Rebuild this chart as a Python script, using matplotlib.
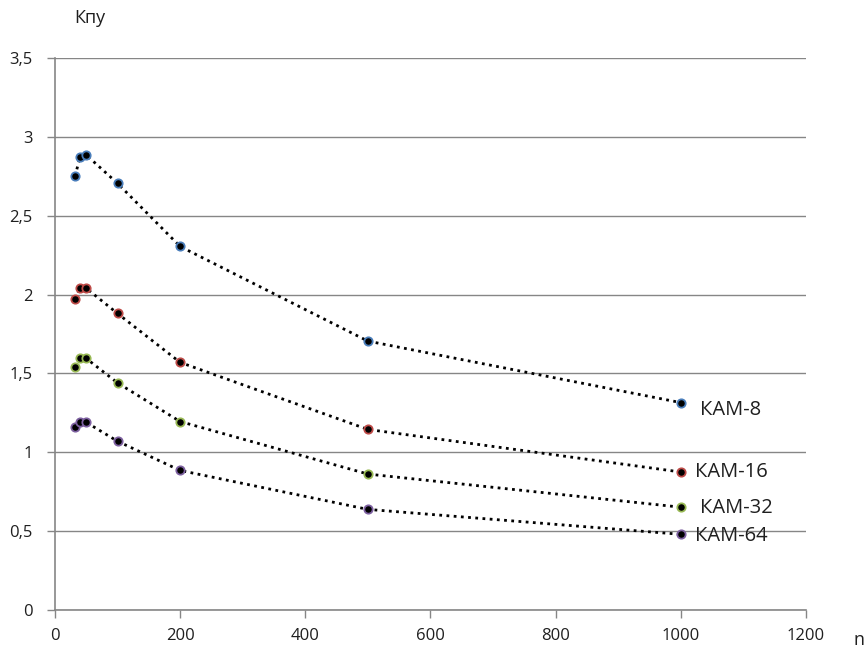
import matplotlib
matplotlib.use("Agg")
import matplotlib.pyplot as plt
from matplotlib.ticker import FuncFormatter

n = [32, 40, 50, 100, 200, 500, 1000]
kam8 = [2.75, 2.87, 2.885, 2.705, 2.305, 1.705, 1.315]
kam16 = [1.97, 2.04, 2.04, 1.88, 1.57, 1.145, 0.875]
kam32 = [1.54, 1.595, 1.595, 1.44, 1.195, 0.862, 0.652]
kam64 = [1.16, 1.195, 1.19, 1.07, 0.885, 0.638, 0.48]
series_names = ["КАМ-8", "КАМ-16", "КАМ-32", "КАМ-64"]
colors = ["#4a7ebb", "#be4b48", "#98b954", "#7d60a0"]
label_pos = [(1030, 1.27), (1023, 0.875), (1030, 0.645), (1023, 0.47)]

plt.rcParams['font.family'] = ['Open Sans', 'DejaVu Sans']

fig = plt.figure(figsize=(8.67, 6.5), dpi=100)
ax = fig.add_axes([0.0634, 0.0615, 0.8662, 0.8493])

for ys, c, name, (lx, ly) in zip([kam8, kam16, kam32, kam64], colors, series_names, label_pos):
    ax.plot(n, ys, linestyle=(0, (1, 1.6)), color="black", linewidth=2.0, zorder=3)
    ax.plot(n, ys, linestyle="none", marker="o", markersize=6,
            markerfacecolor="black", markeredgecolor=c, markeredgewidth=1.3, zorder=4)
    ax.text(lx, ly, name, fontsize=14.5, color="#1f1f1f", ha="left", va="center", zorder=5)

ax.set_xlim(0, 1200)
ax.set_ylim(0, 3.5)
ax.set_xticks(range(0, 1201, 200))
ax.set_yticks([0, 0.5, 1, 1.5, 2, 2.5, 3, 3.5])
fmt = FuncFormatter(lambda v, p: (f"{v:g}").replace(".", ","))
ax.yaxis.set_major_formatter(fmt)
ax.xaxis.set_major_formatter(FuncFormatter(lambda v, p: f"{int(v)}"))
ax.grid(axis="y", color="#868686", linewidth=1.0)
ax.set_axisbelow(True)
for s in ["top", "right"]:
    ax.spines[s].set_visible(False)
for s in ["left", "bottom"]:
    ax.spines[s].set_color("#868686")
    ax.spines[s].set_linewidth(1.2)
ax.tick_params(axis="both", colors="#868686", labelcolor="#1f1f1f", labelsize=12, length=6, width=1.0)
ax.tick_params(axis="x", pad=7)
ax.tick_params(axis="y", pad=10)

fig.text(0.086, 0.972, "Кпу", fontsize=13, color="#1f1f1f", ha="left", va="center")
fig.text(0.985, 0.002, "n", fontsize=13, color="#1f1f1f", ha="left", va="bottom")

fig.savefig("out.png", dpi=100)
